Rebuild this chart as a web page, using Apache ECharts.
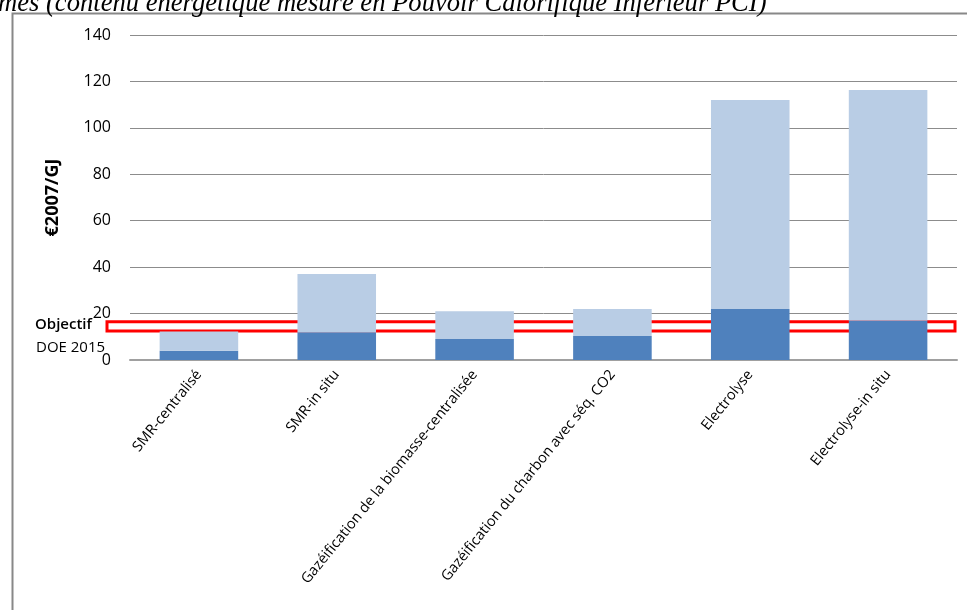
<!DOCTYPE html>
<html>
<head>
<meta charset="utf-8">
<script src="https://cdn.jsdelivr.net/npm/echarts@6/dist/echarts.min.js"></script>
<style>
html,body{margin:0;padding:0;background:#fff;}
#chart{width:967px;height:610px;}
</style>
</head>
<body>
<div id="chart"></div>
<script>
const categories = ['SMR-centralisé', 'SMR-in situ', 'Gazéification de la biomasse-centralisée', 'Gazéification du charbon avec séq. CO2', 'Electrolyse', 'Electrolyse-in situ'];
const darkValues = [4, 12, 9, 10.3, 22, 17];
const lightValues = [8.3, 25, 12, 11.7, 90, 99.3];
const yTicks = [0, 20, 40, 60, 80, 100, 120, 140];
const objectiveRange = [12.5, 16.5];
const titleText = 'mes (contenu énergétique mesuré en Pouvoir Calorifique Inférieur PCI)';
const yAxisName = '€2007/GJ';
const objectiveLabel = ['Objectif', 'DOE 2015'];

const chart = echarts.init(document.getElementById('chart'), null, {renderer: 'canvas'});
chart.setOption({
  animation: false,
  backgroundColor: '#fff',
  grid: {left: 130, right: 10, top: 35, bottom: 250},
  xAxis: {
    type: 'category',
    data: categories,
    axisLine: {lineStyle: {color: '#a0a0a0', width: 2}},
    axisTick: {show: false},
    axisLabel: {interval: 0, rotate: 51, margin: 12, fontSize: 14.5, color: '#000', fontFamily: 'Open Sans'}
  },
  yAxis: {
    type: 'value',
    min: yTicks[0],
    max: yTicks[yTicks.length - 1],
    interval: 20,
    name: yAxisName,
    nameLocation: 'middle',
    nameGap: 68,
    nameTextStyle: {fontWeight: 'bold', fontSize: 18, color: '#000', fontFamily: 'Open Sans'},
    axisLine: {show: false},
    axisTick: {show: false},
    axisLabel: {fontSize: 16, color: '#000', margin: 19, fontFamily: 'Open Sans'},
    splitLine: {lineStyle: {color: '#8c8c8c', width: 1}}
  },
  series: [
    {
      type: 'bar', stack: 'c', data: darkValues, barWidth: '57%',
      itemStyle: {color: '#4F81BD'}
    },
    {
      type: 'bar', stack: 'c', data: lightValues, barWidth: '57%',
      itemStyle: {color: '#B9CDE5'},
      markArea: {
        silent: true,
        itemStyle: {color: 'rgba(0,0,0,0)', borderColor: '#ff0000', borderWidth: 3},
        data: [[{x: 107, yAxis: objectiveRange[1]}, {x: 955, yAxis: objectiveRange[0]}]]
      }
    }
  ],
  graphic: [
    {type: 'polyline', shape: {points: [[12.5, 610], [12.5, 13.5], [967, 13.5]]}, style: {stroke: '#888', lineWidth: 2, fill: null}},
    {type: 'text', left: -2, top: -10, style: {text: titleText, font: 'italic 26.6px "Liberation Serif"', fill: '#000'}},
    {type: 'text', left: 35, top: 317, style: {text: objectiveLabel[0], font: '600 15px "Open Sans"', fill: '#000'}},
    {type: 'text', left: 36, top: 340, style: {text: objectiveLabel[1], font: '15px "Open Sans"', fill: '#000'}}
  ]
});
</script>
</body>
</html>
